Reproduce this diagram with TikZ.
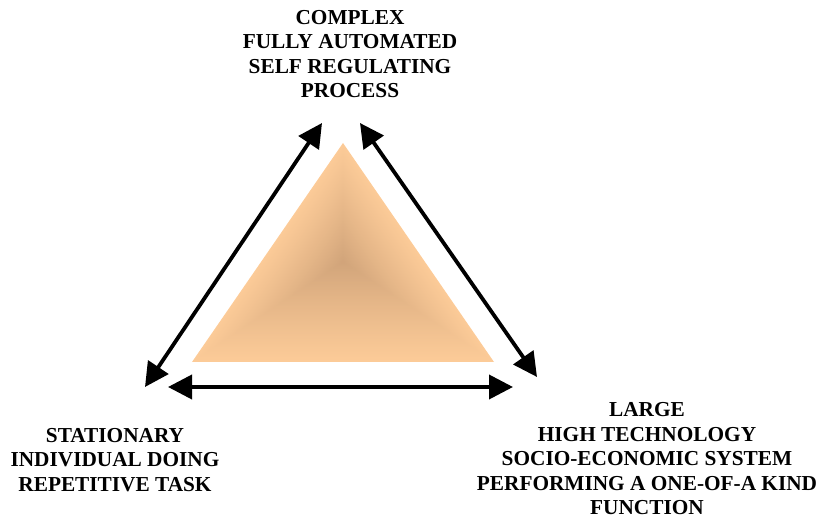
\documentclass[tikz,border=0pt]{standalone}
\usepackage{fontspec}
\setmainfont{Liberation Serif}
\usetikzlibrary{arrows.meta,calc}
\definecolor{peachlight}{HTML}{FCCB98}
\definecolor{peachdark}{HTML}{D1A47A}
\begin{document}
\begin{tikzpicture}[x=1pt,y=-1pt,
  caption/.style={font=\bfseries\fontsize{21.3}{24.5}\selectfont, align=center, inner sep=0pt},
  link/.style={line width=3.8pt, {Triangle[length=24pt,width=24pt]}-{Triangle[length=24pt,width=24pt]}}]
\useasboundingbox (0,0) rectangle (820,518);

% shaded pyramid triangle: nested copies shrinking toward the dark centre
\coordinate (apex) at (343,143);
\coordinate (bl) at (192,362);
\coordinate (br) at (494,362);
\coordinate (mid) at (343,262);
\foreach \i in {0,...,79}{
  \pgfmathsetmacro\s{1-\i/80}
  \pgfmathsetmacro\p{100*(\i/80)*(0.8+0.2*\i/80)}
  \fill[peachdark!\p!peachlight] ($(mid)!\s!(apex)$) -- ($(mid)!\s!(bl)$) -- ($(mid)!\s!(br)$) -- cycle;
}

% arrow end points
\coordinate (lt) at (322,123);
\coordinate (lb) at (145,387);
\coordinate (rt) at (360,123);
\coordinate (rb) at (537,377);
\coordinate (bwest) at (168,387);
\coordinate (beast) at (513,387);

\draw[link] (lb) -- (lt);
\draw[link] (rt) -- (rb);
\draw[link] (bwest) -- (beast);

% captions
\node[caption] (top) at (350,54) {COMPLEX\\FULLY AUTOMATED\\SELF REGULATING\\PROCESS};
\node[caption] (left) at (115,460) {STATIONARY\\INDIVIDUAL DOING\\REPETITIVE TASK};
\node[caption] (right) at (647,459) {LARGE\\HIGH TECHNOLOGY\\SOCIO-ECONOMIC SYSTEM\\PERFORMING A ONE-OF-A KIND\\FUNCTION};
\end{tikzpicture}
\end{document}
